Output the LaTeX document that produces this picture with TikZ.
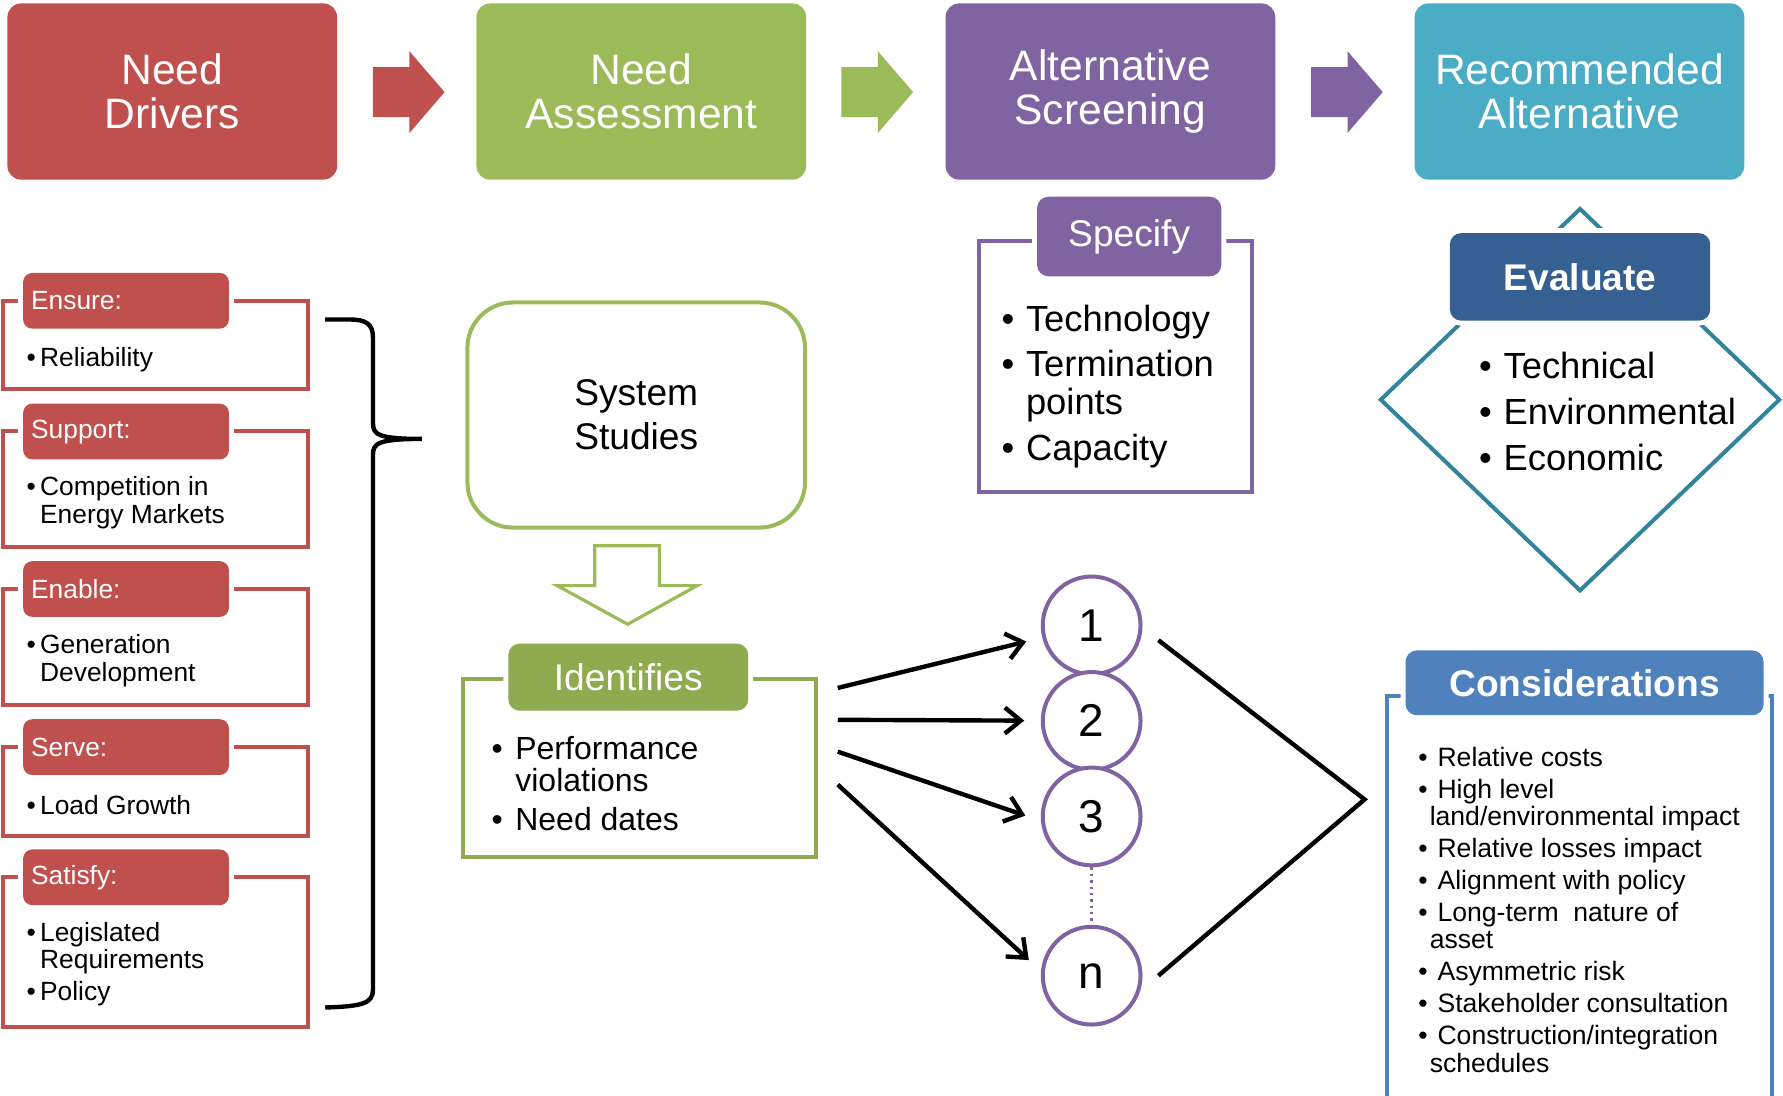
\documentclass[tikz,border=0pt]{standalone}
\usepackage{fontspec}
\setmainfont{Liberation Sans}
\usepackage{tikz}
\usetikzlibrary{arrows.meta,shapes.geometric}
\usepackage{xcolor}

\definecolor{drvred}{HTML}{C0504D}
\definecolor{assgreen}{HTML}{9BBB59}
\definecolor{idgreen}{HTML}{8EAB50}
\definecolor{scrpurple}{HTML}{8064A2}
\definecolor{recteal}{HTML}{4BACC6}
\definecolor{evalblue}{HTML}{376092}
\definecolor{diamteal}{HTML}{31849B}
\definecolor{consblue}{HTML}{4F81BD}

\newcommand{\stagefont}{\fontsize{21.3}{21.8}\selectfont}
\newcommand{\headfont}{\fontsize{18.6}{22}\selectfont}
\newcommand{\listfont}{\fontsize{18.2}{19.3}\selectfont}
\newcommand{\smallfont}{\fontsize{13.2}{13.7}\selectfont}
\newcommand{\bu}[1][6.8pt]{\makebox[#1][l]{\textbullet}}

\tikzset{
	stage/.style={rounded corners=0.24cm,text=white,align=center,inner sep=0,
		minimum width=5.8cm,minimum height=3.1cm,font=\stagefont},
	ttl/.style={rounded corners=0.2cm,text=white,inner sep=0,font=\headfont,
		preaction={draw=white,line width=5pt}},
	drvttl/.style={ttl,fill=drvred,rounded corners=0.16cm,anchor=west,align=left,
		text width=3.34cm,inner xsep=0.14cm,minimum height=0.98cm,font=\smallfont},
	drvbox/.style={draw=drvred,line width=2pt,minimum width=5.36cm,inner sep=0},
	item/.style={anchor=west,align=left,inner sep=0},
	numc/.style={circle,draw=scrpurple,fill=white,line width=2pt,minimum size=1.72cm,
		inner sep=0,font=\fontsize{23}{23}\selectfont},
	conn/.style={-{Straight Barb[length=8pt,width=13pt]},line width=2.2pt,shorten >=0.29cm}
}

\begin{document}
\begin{tikzpicture}[x=0.02cm,y=-0.02cm]
	\useasboundingbox (0,0) rectangle (1568,963);

	% top row
	\node[stage,fill=drvred] (drivers) at (151.5,80.5) {Need\\Drivers};
	\node[stage,fill=assgreen] (assess) at (564,80.5) {Need\\Assessment};
	\node[stage,fill=scrpurple] (screen) at (976.5,80.5) {Alternative\\Screening};
	\node[stage,fill=recteal] (recomm) at (1389,80.5) {Recommended\\Alternative};
	\foreach \x/\c in {328/drvred,740/assgreen,1153/scrpurple}
		\fill[\c] (\x,59) -- (\x+32,59) -- (\x+32,45) -- (\x+63,81) -- (\x+32,117)
			-- (\x+32,103) -- (\x,103) -- cycle;

	% need drivers
	\node[drvbox,minimum height=1.54cm] (ensure) at (137,303.5) {};
	\node[drvbox,minimum height=2.04cm] (support) at (137,430) {};
	\node[drvbox,minimum height=2.04cm] (enable) at (137,569) {};
	\node[drvbox,minimum height=1.56cm] (serve) at (137,696) {};
	\node[drvbox,minimum height=2.64cm] (satisfy) at (137,837) {};
	\node[drvttl] (ensurettl) at (20,264.5) {Ensure:};
	\node[drvttl] (supportttl) at (20,379.5) {Support:};
	\node[drvttl] (enablettl) at (20,518) {Enable:};
	\node[drvttl] (servettl) at (20,657) {Serve:};
	\node[drvttl] (satisfyttl) at (20,771.5) {Satisfy:};
	\begin{scope}[every node/.style={item,font=\smallfont}]
		\node (ensurelist) at (23,316) {\bu Reliability};
		\node (supportlist) at (23,442) {\bu Competition in\\\hspace*{6.8pt}Energy Markets};
		\node (enablelist) at (23,581) {\bu Generation\\\hspace*{6.8pt}Development};
		\node (servelist) at (23,708) {\bu Load Growth};
		\node (satisfylist) at (23,848) {\bu Legislated\\\hspace*{6.8pt}Requirements\\[2.3pt]\bu Policy};
	\end{scope}
	\draw[line width=2.2pt] (286,281) -- (308,281) .. controls (322,281) and (328,285) .. (328,297)
		-- (328,372) .. controls (328,382) and (332,386) .. (371,386)
		.. controls (332,386) and (328,390) .. (328,400)
		-- (328,870) .. controls (328,882) and (320,885) .. (286,886);

	% need assessment
	\node[draw=assgreen,line width=2pt,rounded corners=0.8cm,minimum width=5.94cm,
		minimum height=3.96cm,align=center,font=\headfont] (studies) at (559.5,365) {System\\Studies};
	\draw[assgreen,line width=1.6pt] (523,480) -- (580,480) -- (580,515) -- (613,515)
		-- (552,549) -- (490,515) -- (523,515) -- cycle;
	\node[draw=idgreen,line width=2pt,minimum width=6.22cm,minimum height=3.14cm] (idbox) at (562.5,675.5) {};
	\node[ttl,fill=idgreen,minimum width=4.22cm,minimum height=1.18cm] (idttl) at (552.5,595.5) {Identifies};
	\node[item,font=\fontsize{16}{16.4}\selectfont] (idlist) at (432,689)
		{\bu[11.9pt]Performance\\\hspace*{11.9pt}violations\\[2.9pt]\bu[11.9pt]Need dates};

	% alternative screening
	\node[draw=scrpurple,line width=2pt,minimum width=4.8cm,minimum height=4.42cm] (specbox) at (981,322.5) {};
	\node[ttl,fill=scrpurple,minimum width=3.24cm,minimum height=1.4cm] (specttl) at (993,208) {Specify};
	\node[item,font=\listfont] (speclist) at (880.5,340)
		{\bu[12.2pt]Technology\\[2.8pt]\bu[12.2pt]Termination\\\hspace*{12.2pt}points\\[3.4pt]\bu[12.2pt]Capacity};

	% alternatives
	\node[numc] (c1) at (960,550) {1};
	\node[numc] (c2) at (960,634) {2};
	\node[numc] (c3) at (960,718) {3};
	\node[numc] (cn) at (960,858) {n};
	\draw[scrpurple,dotted,line width=1.2pt] (c3) -- (cn);
	\foreach \dy/\t in {-70.5/c1,-42.5/c2,-14.5/c3.185,14.5/cn.175}
		\draw[conn] ([shift={(17,\dy)}]idbox.east) -- (\t);
	\coordinate (meet) at (1200,703);
	\draw[line width=2.2pt] ([shift={(14,13)}]c1.east) -- (meet) -- ([shift={(14,0)}]cn.east);

	% recommended alternative
	\node[diamond,draw=diamteal,line width=2pt,inner sep=0,minimum width=7.04cm,
		minimum height=6.74cm] (evaldiam) at (1389.5,351.5) {};
	\node[ttl,fill=evalblue,minimum width=4.58cm,minimum height=1.54cm,
		font=\headfont\bfseries] (evalttl) at (1389.5,243.5) {Evaluate};
	\node[item,font=\fontsize{18.2}{23.2}\selectfont] (evallist) at (1300.5,362)
		{\bu[12.2pt]Technical\\\bu[12.2pt]Environmental\\\bu[12.2pt]Economic};

	% considerations
	\draw[consblue,line width=2pt] (1220,966) -- (1220,612) -- (1558,612) -- (1558,966);
	\node[ttl,fill=consblue,minimum width=6.3cm,minimum height=1.14cm,
		font=\headfont\bfseries] (consttl) at (1393.5,600.5) {Considerations};
	\node[item,font=\fontsize{13.3}{13.9}\selectfont] (conslist) at (1247,800)
		{\bu[9.6pt]Relative costs\\[2pt]
		\bu[9.6pt]High level\\\hspace*{5.7pt}land/environmental impact\\[2pt]
		\bu[9.6pt]Relative losses impact\\[2pt]
		\bu[9.6pt]Alignment with policy\\[2pt]
		\bu[9.6pt]Long-term\ \ nature of\\\hspace*{5.7pt}asset\\[2pt]
		\bu[9.6pt]Asymmetric risk\\[2pt]
		\bu[9.6pt]Stakeholder consultation\\[2pt]
		\bu[9.6pt]Construction/integration\\\hspace*{5.7pt}schedules};
\end{tikzpicture}
\end{document}
